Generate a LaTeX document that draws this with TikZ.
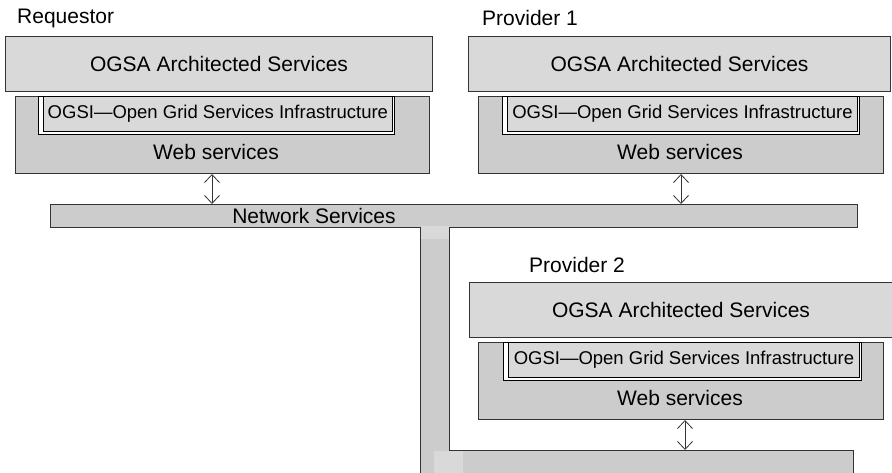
\documentclass[tikz,border=0pt]{standalone}
\usepackage{fontspec}
\setmainfont{Liberation Sans}
\usetikzlibrary{arrows.meta}
\definecolor{lightg}{HTML}{D9D9D9}
\definecolor{midg}{HTML}{CCCCCC}
\definecolor{edgec}{HTML}{333333}
\begin{document}
\begin{tikzpicture}[x=1pt,y=-1pt,
  lbl/.style={inner sep=0pt, font=\fontsize{21}{24}\selectfont},
  ogsa/.style={draw=edgec, line width=1pt, fill=lightg, inner sep=0pt, anchor=north west, minimum height=55pt, font=\fontsize{21}{24}\selectfont},
  web/.style={draw=edgec, line width=1pt, fill=midg, inner sep=0pt, anchor=north west, minimum width=405pt, minimum height=77pt},
  ogsiout/.style={draw=black, line width=1pt, fill=white, inner sep=0pt, anchor=north west, minimum height=38pt},
  ogsiin/.style={draw=black, line width=0.8pt, fill=lightg, inner sep=0pt, anchor=north west, minimum height=35pt, font=\fontsize{18.5}{20}\selectfont},
  edgeline/.style={draw=edgec, line width=1pt},
  arr/.style={{Straight Barb[length=8pt,width=15pt]}-{Straight Barb[length=8pt,width=15pt]}, line width=0.8pt, draw=edgec}]

\useasboundingbox (0,0) rectangle (892,473);

% ---------- Network bus ----------
\node[draw=edgec, line width=1pt, fill=midg, inner sep=0pt, anchor=north west,
      minimum width=807pt, minimum height=23pt] (net) at (50,204) {};
\node[lbl] (nett) at (314,216) {Network Services};

\fill[midg] (420.5,226.3) rectangle (448.5,473);
\fill[lightg] (420.5,226.3) rectangle (448.5,239);
\node[fill=midg, inner sep=0pt, anchor=north west, minimum width=404pt, minimum height=23pt] (bot) at (449,450) {};
\fill[lightg] (434,451) rectangle (463,473);
\draw[edgeline] (420,227) -- (420,473);
\draw[edgeline] (449,227) -- (449,450) -- (853,450) -- (853,473);

% ---------- Requestor ----------
\node[lbl, anchor=west] (rlab) at (17,18) {Requestor};
\node[ogsa, minimum width=427pt] (rogsa) at (5,36) {OGSA Architected Services};
\node[web, minimum width=414pt] (rweb) at (15,96) {};
\node[ogsiout, minimum width=356pt] (rogsio) at (38,96) {};
\node[ogsiin, minimum width=349pt] (rogsi) at (43,96) {OGSI---Open Grid Services Infrastructure};
\node[lbl] (rwst) at (216,152) {Web services};
\coordinate (ra) at (212,0);
\draw[arr] (rweb.south -| ra) -- (net.north -| ra);

% ---------- Provider 1 ----------
\node[lbl, anchor=west] (p1lab) at (482,18) {Provider 1};
\node[ogsa, minimum width=422pt] (p1ogsa) at (468,36) {OGSA Architected Services};
\node[web] (p1web) at (478,96) {};
\node[ogsiout, minimum width=357pt] (p1ogsio) at (502,96) {};
\node[ogsiin, minimum width=350pt] (p1ogsi) at (507,96) {OGSI---Open Grid Services Infrastructure};
\node[lbl] (p1wst) at (680,152) {Web services};
\coordinate (p1a) at (681,0);
\draw[arr] (p1web.south -| p1a) -- (net.north -| p1a);

% ---------- Provider 2 ----------
\node[lbl, anchor=west] (p2lab) at (529,265) {Provider 2};
\node[ogsa, minimum width=423pt] (p2ogsa) at (469,282) {OGSA Architected Services};
\node[web] (p2web) at (478,342) {};
\node[ogsiout, minimum width=358pt] (p2ogsio) at (503,342) {};
\node[ogsiin, minimum width=351pt] (p2ogsi) at (508,342) {OGSI---Open Grid Services Infrastructure};
\node[lbl] (p2wst) at (680,398) {Web services};
\coordinate (p2a) at (685,0);
\draw[arr] (p2web.south -| p2a) -- (bot.north -| p2a);
\end{tikzpicture}
\end{document}
